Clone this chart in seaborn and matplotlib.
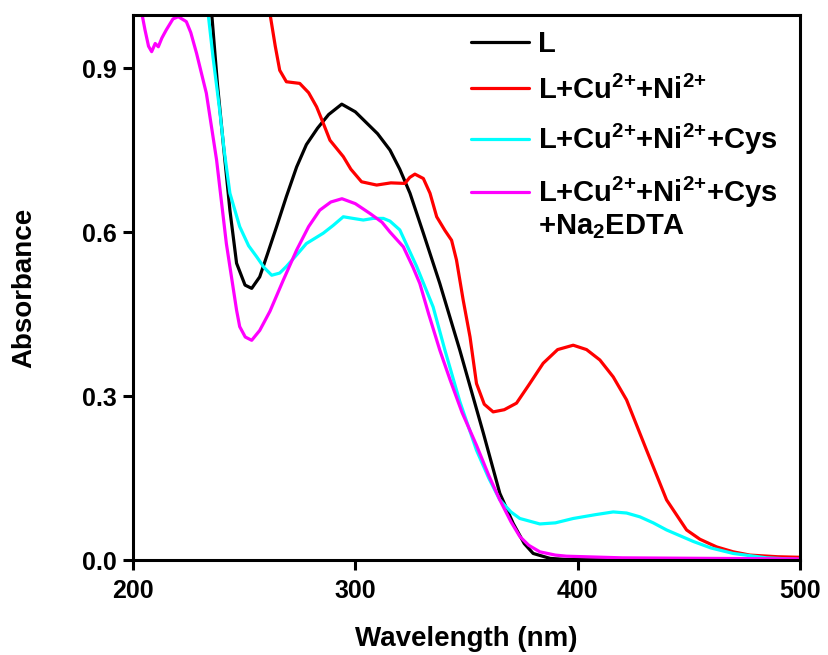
import numpy as np
import pandas as pd
import matplotlib
matplotlib.use("Agg")
import matplotlib.pyplot as plt
from matplotlib.lines import Line2D
import seaborn as sns

# UV-vis spectra
wl_L = [232, 235.4, 238, 240.6, 243.6, 246.6, 250.4, 253.4, 257, 260.5, 264.6, 269, 273.6, 278, 283,
        288, 293.9, 300, 305, 310, 315.6, 320, 324.6, 330.6, 338, 347, 357.6, 365, 371, 376, 380,
        387.6, 395, 420, 460, 500]
abs_L = [1.08, 1.0, 0.87, 0.762, 0.64, 0.543, 0.503, 0.497, 0.518, 0.56, 0.61, 0.665, 0.719, 0.76, 0.79,
         0.815, 0.834, 0.82, 0.80, 0.78, 0.75, 0.715, 0.671, 0.598, 0.506, 0.384, 0.232, 0.122, 0.067, 0.03, 0.012,
         0.003, 0.001, 0.0, 0.0, 0.0]

wl_CuNi = [256, 261.6, 264, 266, 269, 275, 279, 282.6, 285.5, 288.6, 294.6, 298, 302.8, 309.6, 316, 322.3,
           324.5, 326.8, 330.6, 333.6, 336.6, 340.3, 343.3, 345.5, 348.5, 351.6, 354.5, 358, 362, 367,
           372.5, 378, 384.5, 391, 398, 404, 410, 416, 422, 431, 440, 449, 455, 462.5, 470, 477.5, 490, 500]
abs_CuNi = [1.12, 1.0, 0.94, 0.896, 0.875, 0.872, 0.855, 0.829, 0.80, 0.768, 0.738, 0.715, 0.692, 0.686, 0.69, 0.689,
            0.70, 0.706, 0.698, 0.671, 0.628, 0.603, 0.585, 0.549, 0.476, 0.408, 0.323, 0.285, 0.271, 0.275,
            0.287, 0.32, 0.36, 0.385, 0.393, 0.385, 0.366, 0.335, 0.293, 0.201, 0.11, 0.055, 0.038, 0.024, 0.015, 0.009, 0.006, 0.005]

wl_Cys = [232, 233.8, 236, 239, 241, 243.6, 248, 252, 255.6, 259, 262.4, 266, 269, 274, 278, 285.6, 290,
          294.6, 299, 303.6, 308, 312.6, 315.6, 320, 327.6, 335, 340.3, 347, 354.5, 360, 365, 370, 374, 383,
          390, 398, 408, 416, 422, 428, 434, 440, 452, 460, 470, 485, 500]
abs_Cys = [1.05, 1.0, 0.92, 0.823, 0.75, 0.671, 0.61, 0.575, 0.555, 0.535, 0.521, 0.525, 0.537, 0.56, 0.579, 0.598, 0.612,
           0.628, 0.625, 0.622, 0.625, 0.625, 0.62, 0.604, 0.537, 0.463, 0.384, 0.29, 0.201, 0.15, 0.11, 0.088, 0.076, 0.066,
           0.068, 0.076, 0.083, 0.088, 0.086, 0.079, 0.068, 0.055, 0.034, 0.022, 0.012, 0.004, 0.001]

wl_EDTA = [204, 205.4, 207, 208.4, 210, 211.4, 213, 215, 218, 220.4, 224, 226, 228.6, 233, 237.6, 242, 246.6,
           248, 250.5, 253.4, 257, 261.6, 267.6, 273.6, 279, 284, 289, 294, 300, 306.6, 312, 315.6, 321.6, 326,
           329, 333, 338, 342.6, 348, 354.5, 360, 365, 370, 374, 378, 383, 390, 395, 420, 460, 500]
abs_EDTA = [1.0, 0.97, 0.94, 0.93, 0.945, 0.939, 0.955, 0.97, 0.99, 0.994, 0.985, 0.965, 0.927, 0.854, 0.732, 0.579, 0.457,
            0.427, 0.408, 0.402, 0.42, 0.455, 0.512, 0.567, 0.61, 0.64, 0.655, 0.661, 0.652, 0.634, 0.618, 0.60, 0.573, 0.535,
            0.506, 0.45, 0.384, 0.33, 0.27, 0.21, 0.155, 0.11, 0.07, 0.043, 0.027, 0.015, 0.009, 0.007, 0.004, 0.003, 0.002]

labels = ["L",
          r"L+Cu$^{\text{2+}}$+Ni$^{\text{2+}}$",
          r"L+Cu$^{\text{2+}}$+Ni$^{\text{2+}}$+Cys",
          r"L+Cu$^{\text{2+}}$+Ni$^{\text{2+}}$+Cys"]
label_cont = r"+Na$_{\text{2}}$EDTA"   # second line of the last legend entry
series_names = ["L", "CuNi", "Cys", "EDTA"]
colors = ["#000000", "#ff0000", "#00ffff", "#ff00ff"]

frames = []
for name, wl, a in zip(series_names, [wl_L, wl_CuNi, wl_Cys, wl_EDTA], [abs_L, abs_CuNi, abs_Cys, abs_EDTA]):
    frames.append(pd.DataFrame({"Wavelength": wl, "Absorbance": a, "Sample": name}))
df = pd.concat(frames, ignore_index=True)

sns.set_style("white")
plt.rcParams["font.family"] = ["Liberation Sans", "DejaVu Sans"]
plt.rcParams["font.weight"] = "bold"
plt.rcParams["text.color"] = "black"
plt.rcParams["axes.labelcolor"] = "black"
plt.rcParams["xtick.color"] = "black"
plt.rcParams["ytick.color"] = "black"
plt.rcParams["mathtext.fontset"] = "custom"
plt.rcParams["mathtext.rm"] = "Liberation Sans:bold"
plt.rcParams["mathtext.bf"] = "Liberation Sans:bold"
plt.rcParams["mathtext.it"] = "Liberation Sans:bold"
plt.rcParams["mathtext.default"] = "bf"

fig = plt.figure(figsize=(8.29, 6.55), dpi=100)
ax = fig.add_axes([0.1604, 0.145, 0.8046, 0.832])

sns.lineplot(data=df, x="Wavelength", y="Absorbance", hue="Sample", hue_order=series_names,
             palette=colors, estimator=None, sort=False, linewidth=2.3, ax=ax, legend=False)

ax.set_xlim(200, 500)
ax.set_ylim(0, 0.997)
ax.set_xticks([200, 300, 400, 500])
ax.set_yticks([0.0, 0.3, 0.6, 0.9])
ax.set_yticklabels(["0.0", "0.3", "0.6", "0.9"])

for sp in ax.spines.values():
    sp.set_linewidth(2.2)
    sp.set_color("black")
ax.tick_params(axis="both", direction="out", length=7, width=2.2, color="black",
               labelcolor="black", bottom=True, left=True, top=False, right=False)
ax.tick_params(axis="y", labelsize=18, pad=5)
ax.tick_params(axis="x", labelsize=18, pad=7)
for t in ax.get_xticklabels() + ax.get_yticklabels():
    t.set_weight("bold")

ax.set_xlabel("Wavelength (nm)", fontsize=20, fontweight="bold", labelpad=16)
ax.set_ylabel("Absorbance", fontsize=20, fontweight="bold", labelpad=32)

# legend: last entry wraps onto a second line with no handle
handles = [Line2D([], [], color=c, linewidth=2.3) for c in colors]
handles.append(Line2D([], [], linestyle="none"))
leg = ax.legend(handles, labels + [label_cont], loc="upper left", bbox_to_anchor=(0.48, 1.005),
                frameon=False, fontsize=21, handlelength=2.0, handletextpad=0.3,
                labelspacing=0.6, borderaxespad=0.2)
for t in leg.get_texts():
    t.set_weight("bold")
leg.get_texts()[-1].set_y(15)  # pull the wrapped line up under its entry

fig.savefig("out.png", dpi=100)
